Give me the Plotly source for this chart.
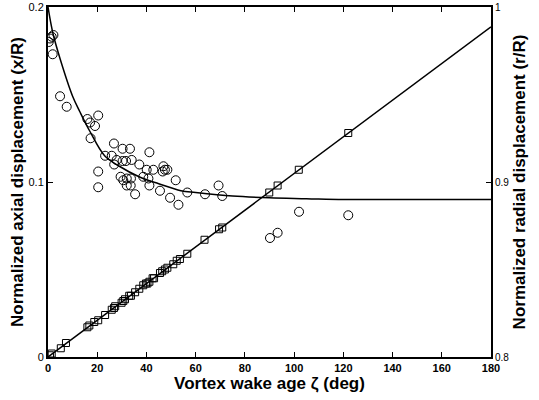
import plotly.graph_objects as go

# Axial displacement (squares, left axis)
sq_zeta = [0.8, 1.5, 5.2, 7.3, 16.0, 16.8, 18.8, 20.4, 23.2, 25.9, 26.8, 27.3, 29.9, 30.6,
           31.3, 33.0, 33.7, 35.4, 37.1, 38.7, 39.8, 40.4, 41.2, 42.5, 43.1, 45.5, 46.4,
           47.5, 48.5, 50.9, 52.3, 53.6, 56.6, 63.6, 69.5, 70.8, 89.9, 93.3, 101.9, 122.0]
sq_axial = [0.001, 0.002, 0.005, 0.008, 0.017, 0.018, 0.020, 0.021, 0.024, 0.027, 0.028,
            0.029, 0.031, 0.032, 0.033, 0.035, 0.035, 0.037, 0.039, 0.041, 0.042, 0.042,
            0.043, 0.045, 0.045, 0.048, 0.049, 0.050, 0.051, 0.053, 0.055, 0.056, 0.059,
            0.067, 0.073, 0.074, 0.094, 0.098, 0.107, 0.128]
axial_fit_zeta = [0, 180]
axial_fit = [0.0, 0.1887]

# Radial displacement (circles, right axis)
ci_zeta = [0.3, 0.8, 1.5, 2.2, 1.9, 4.9, 7.6, 16.0, 17.1, 20.4, 19.1, 17.3, 20.4, 20.4,
           26.8, 23.2, 25.9, 26.9, 27.9, 30.3, 33.3, 30.3, 31.7, 34.0, 37.1, 41.2, 29.5,
           30.6, 32.0, 33.7, 32.0, 33.6, 35.4, 38.7, 40.1, 40.8, 41.2, 42.8, 46.9, 47.5,
           48.5, 46.6, 45.5, 49.6, 51.9, 53.0, 56.6, 63.8, 69.3, 70.8, 90.2, 93.3, 102.0, 122.0]
ci_radial = [0.980, 0.982, 0.983, 0.984, 0.973, 0.949, 0.943, 0.936, 0.934, 0.938, 0.932,
             0.925, 0.906, 0.897, 0.922, 0.915, 0.915, 0.910, 0.9126, 0.919, 0.919, 0.912,
             0.912, 0.9126, 0.910, 0.917, 0.903, 0.901, 0.902, 0.902, 0.898, 0.898, 0.893,
             0.903, 0.907, 0.902, 0.898, 0.907, 0.909, 0.907, 0.907, 0.906, 0.895, 0.891,
             0.901, 0.887, 0.894, 0.893, 0.898, 0.892, 0.868, 0.871, 0.883, 0.881]
radial_fit_zeta = [0, 2, 5, 10, 13, 17, 23, 29, 37, 45, 54, 60, 75, 90, 105, 120, 140, 160, 180]
radial_fit = [1.0, 0.985, 0.970, 0.949, 0.940, 0.929, 0.915, 0.909, 0.903, 0.899, 0.895,
              0.894, 0.892, 0.891, 0.8905, 0.890, 0.890, 0.890, 0.890]

x_ticks = [0, 20, 40, 60, 80, 100, 120, 140, 160, 180]
y_ticks = [0, 0.1, 0.2]
y_ticklabels = ["0", "0.1", "0.2"]
y2_ticks = [0.8, 0.9, 1.0]
y2_ticklabels = ["0.8", "0.9", "1"]

FONT = "Arial, Liberation Sans, Helvetica, sans-serif"

fig = go.Figure()
fig.add_trace(go.Scatter(x=axial_fit_zeta, y=axial_fit, mode="lines",
                         line=dict(color="black", width=1.5), yaxis="y", showlegend=False))
fig.add_trace(go.Scatter(x=sq_zeta, y=sq_axial, mode="markers",
                         marker=dict(symbol="square-open", size=7, color="black",
                                     line=dict(width=1, color="black")),
                         yaxis="y", showlegend=False))
fig.add_trace(go.Scatter(x=radial_fit_zeta, y=radial_fit, mode="lines",
                         line=dict(color="black", width=1.5, shape="spline"),
                         yaxis="y2", showlegend=False))
fig.add_trace(go.Scatter(x=ci_zeta, y=ci_radial, mode="markers",
                         marker=dict(symbol="circle-open", size=9, color="black",
                                     line=dict(width=1, color="black")),
                         yaxis="y2", showlegend=False))

fig.update_layout(
    width=539, height=400,
    margin=dict(l=48, r=48, t=7, b=43),
    paper_bgcolor="white", plot_bgcolor="white",
    font=dict(family=FONT, color="black"),
    xaxis=dict(range=[0, 180], tickvals=x_ticks, ticks="inside", ticklen=5,
               tickwidth=1, tickcolor="black", showline=True, linecolor="black",
               linewidth=2, mirror="ticks", showgrid=False, zeroline=False,
               automargin=False,
               tickfont=dict(size=11, family=FONT, weight="bold"),
               title=dict(text="Vortex wake age ζ (deg)",
                          font=dict(size=17, family=FONT, weight="bold"), standoff=1)),
    yaxis=dict(range=[0, 0.2], tickvals=y_ticks, ticktext=y_ticklabels, ticks="inside",
               ticklen=5, tickwidth=1, tickcolor="black", showline=True, linecolor="black",
               linewidth=2, showgrid=False, zeroline=False, automargin=False,
               tickfont=dict(size=11, family=FONT),
               title=dict(text="Normalized axial displacement (x/R)",
                          font=dict(size=17, family=FONT, weight="bold"), standoff=1)),
    yaxis2=dict(range=[0.8, 1.0], tickvals=y2_ticks, ticktext=y2_ticklabels,
                overlaying="y", side="right", ticks="inside", ticklen=5, tickwidth=1,
                tickcolor="black", showline=True, linecolor="black", linewidth=2,
                showgrid=False, zeroline=False, automargin=False,
                tickfont=dict(size=10, family=FONT),
                title=dict(text="Normalized radial displacement (r/R)",
                           font=dict(size=17, family=FONT, weight="bold"), standoff=5)),
)

fig.write_html("out.html")
